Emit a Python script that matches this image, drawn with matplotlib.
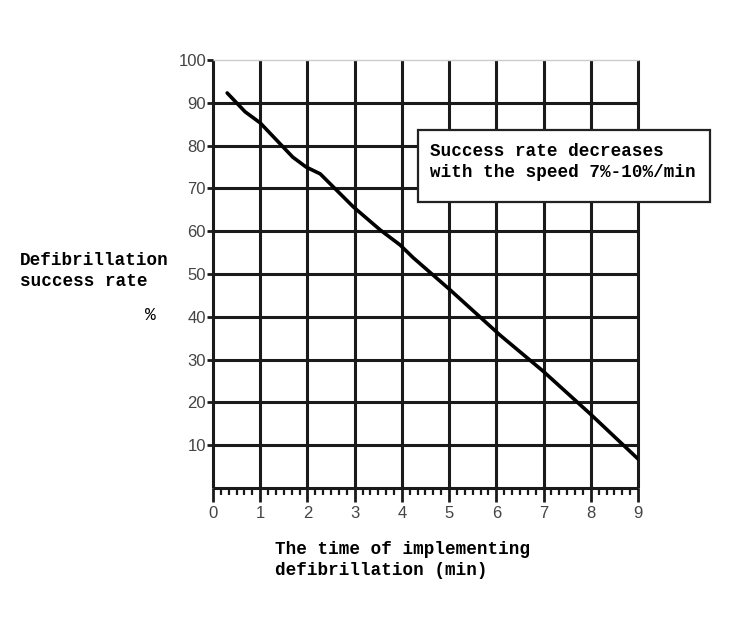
import matplotlib
matplotlib.use("Agg")
import matplotlib.pyplot as plt
from matplotlib.patches import Rectangle
from matplotlib.ticker import MultipleLocator

# Data
time_min = [0.3, 0.68, 1.0, 1.69, 1.97, 2.27, 2.97, 3.54, 3.96, 4.24, 5.02, 6.08, 6.99, 7.99, 9.0]
success_rate = [92.3, 87.9, 85.3, 77.3, 75.0, 73.4, 65.7, 60.3, 56.8, 53.8, 46.3, 35.7, 27.3, 17.3, 6.8]
x_ticks = [0, 1, 2, 3, 4, 5, 6, 7, 8, 9]
y_ticks = [10, 20, 30, 40, 50, 60, 70, 80, 90, 100]

W, H = 742, 619
fig = plt.figure(figsize=(W / 100, H / 100), dpi=100)
ax = fig.add_axes([213 / W, 1 - 488 / H, (638 - 213) / W, (488 - 60) / H])
ax.set_xlim(0, 9)
ax.set_ylim(0, 100)

grid_col = "#1a1a1a"
for xv in x_ticks:
    ax.plot([xv, xv], [0, 100], color=grid_col, lw=2.2, zorder=1, clip_on=False, solid_capstyle="butt")
for yv in y_ticks[:-1]:
    ax.plot([0, 9], [yv, yv], color=grid_col, lw=2.2, zorder=1, clip_on=False, solid_capstyle="butt")
ax.plot([0, 9], [100, 100], color="#cccccc", lw=1.0, zorder=1, clip_on=False)
ax.plot([0, 9], [0, 0], color=grid_col, lw=2.2, zorder=1, clip_on=False, solid_capstyle="butt")

ax.plot(time_min, success_rate, color="black", lw=2.6, zorder=3, solid_capstyle="round")

for s in ax.spines.values():
    s.set_visible(False)

ax.set_xticks(x_ticks)
ax.set_yticks(y_ticks)
ax.xaxis.set_minor_locator(MultipleLocator(1 / 6))
ax.tick_params(axis="x", which="major", length=10, width=2.0, color=grid_col, direction="out",
               labelsize=12, labelcolor="#444444", pad=3)
ax.tick_params(axis="x", which="minor", length=5, width=1.6, color=grid_col, direction="out")
ax.tick_params(axis="y", which="major", length=4, width=2.0, color=grid_col, direction="out",
               labelsize=12, labelcolor="#444444", pad=1)
for lab in ax.get_xticklabels() + ax.get_yticklabels():
    lab.set_family("Liberation Sans")

mono = "Liberation Mono"
# Annotation box
fig.patches.append(Rectangle((418 / W, 1 - 202 / H), 292 / W, 72 / H, transform=fig.transFigure,
                             facecolor="white", edgecolor="#222222", lw=1.6, zorder=5))
fig.text(430 / W, 1 - 162 / H, "Success rate decreases\nwith the speed 7%-10%/min",
         family=mono, fontweight="bold", fontsize=12.7, va="center", ha="left",
         linespacing=1.3, zorder=6)

# Axis labels
fig.text(20 / W, 1 - 271 / H, "Defibrillation\nsuccess rate", family=mono, fontweight="bold",
         fontsize=12.7, va="center", ha="left", linespacing=1.3)
fig.text(150 / W, 1 - 316 / H, "%", family=mono, fontsize=13, va="center", ha="center")
fig.text(275 / W, 1 - 560 / H, "The time of implementing\ndefibrillation (min)", family=mono,
         fontweight="bold", fontsize=12.7, va="center", ha="left", linespacing=1.3)

fig.savefig("out.png", dpi=100, facecolor="white")
